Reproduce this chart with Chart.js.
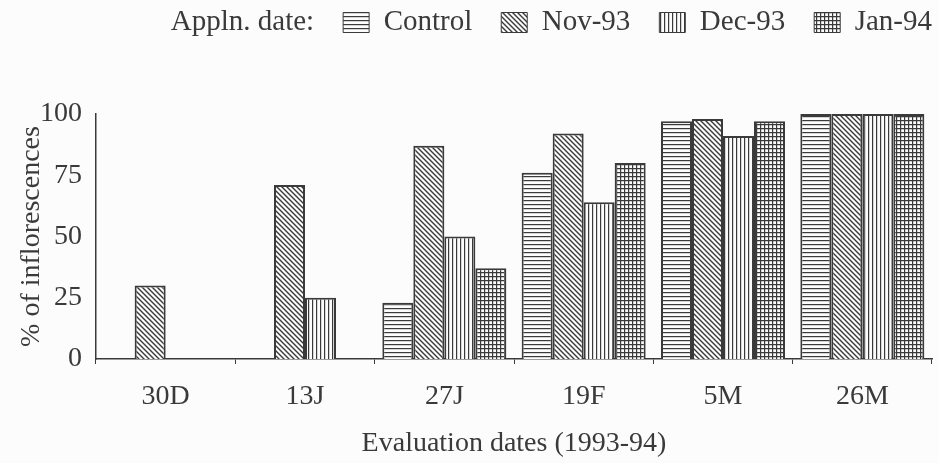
<!DOCTYPE html>
<html>
<head>
<meta charset="utf-8">
<script src="https://cdn.jsdelivr.net/npm/chart.js@4/dist/chart.umd.min.js"></script>
<style>
  html, body { margin: 0; padding: 0; background: #fcfcfc; }
  #wrap { width: 939px; height: 463px; }
</style>
</head>
<body>
<div id="wrap"><canvas id="inflorChart"></canvas></div>
<script>
const evalDates = ["30D", "13J", "27J", "19F", "5M", "26M"];
const controlValues = [0, 0, 23, 76, 97, 100];
const nov93Values = [30, 71, 87, 92, 98, 100];
const dec93Values = [0, 25, 50, 64, 91, 100];
const jan94Values = [0, 0, 37, 80, 97, 100];
const yTicks = [0, 25, 50, 75, 100];

const ink = '#3a3a3a';
const serif = 'Liberation Serif';

// Hatch patterns like the printed figure
function makePattern(kind) {
  const s = kind === 'diag' ? 5 : 4;
  const c = document.createElement('canvas');
  c.width = s;
  c.height = s;
  const g = c.getContext('2d');
  g.fillStyle = '#fcfcfc';
  g.fillRect(0, 0, s, s);
  g.strokeStyle = ink;
  g.lineWidth = 1.4;
  g.beginPath();
  if (kind === 'horiz' || kind === 'grid') {
    g.moveTo(0, 0.5); g.lineTo(s, 0.5);
  }
  if (kind === 'vert' || kind === 'grid') {
    g.moveTo(0.5, 0); g.lineTo(0.5, s);
  }
  if (kind === 'diag') {
    g.moveTo(0, 0); g.lineTo(s, s);
    g.moveTo(-1, s - 1); g.lineTo(1, s + 1);
    g.moveTo(s - 1, -1); g.lineTo(s + 1, 1);
  }
  g.stroke();
  return g.createPattern(c, 'repeat');
}

const ctx = document.getElementById('inflorChart').getContext('2d');

function barSet(label, values, kind) {
  return {
    label: label,
    data: values,
    backgroundColor: makePattern(kind),
    borderColor: ink,
    borderWidth: 2,
    borderSkipped: 'start',
    categoryPercentage: 0.89,
    barPercentage: 1.0
  };
}

// give the legend extra room below it
const legendGap = {
  id: 'legendGap',
  beforeInit(chart) {
    const origFit = chart.legend.fit;
    chart.legend.fit = function () {
      origFit.bind(chart.legend)();
      this.height += 67;
    };
  }
};

new Chart(ctx, {
  type: 'bar',
  data: {
    labels: evalDates,
    datasets: [
      barSet('Control', controlValues, 'horiz'),
      barSet('Nov-93', nov93Values, 'diag'),
      barSet('Dec-93', dec93Values, 'vert'),
      barSet('Jan-94', jan94Values, 'grid')
    ]
  },
  options: {
    responsive: true,
    maintainAspectRatio: false,
    animation: false,
    layout: { padding: { left: 0, right: 7, top: 8, bottom: 3 } },
    plugins: {
      tooltip: { enabled: false },
      legend: {
        position: 'top',
        align: 'end',
        labels: {
          color: ink,
          font: { family: serif, size: 29 },
          boxWidth: 26,
          boxHeight: 20,
          padding: 0,
          generateLabels: function (chart) {
            const items = Chart.defaults.plugins.legend.labels.generateLabels(chart);
            items.forEach(it => { it.lineWidth = 1; });
            items.unshift({
              text: 'Appln. date:',
              fillStyle: 'rgba(0,0,0,0)',
              strokeStyle: 'rgba(0,0,0,0)',
              lineWidth: 0,
              hidden: false,
              fontColor: ink
            });
            // trailing spaces keep the gap between entries
            items.forEach((it, i) => {
              if (i < items.length - 1) it.text = it.text + '    ';
            });
            return items;
          }
        },
        onClick: null
      }
    },
    scales: {
      x: {
        afterFit: function (scale) { scale.height = 101; },
        grid: { display: true, drawOnChartArea: false, offset: true, tickLength: 5, color: ink },
        border: { display: true, color: ink, width: 1.5 },
        ticks: { color: ink, font: { family: serif, size: 28 }, padding: 16 },
        title: {
          display: true,
          text: 'Evaluation dates (1993-94)',
          color: ink,
          font: { family: serif, size: 28 },
          padding: { top: 12, bottom: 0 }
        }
      },
      y: {
        min: 0,
        max: 100,
        afterFit: function (scale) { scale.width = 96; },
        afterBuildTicks: function (axis) {
          axis.ticks = yTicks.map(v => ({ value: v }));
        },
        grid: { display: false, drawTicks: false },
        border: { display: true, color: ink, width: 1.5 },
        ticks: { color: ink, font: { family: serif, size: 28 }, padding: 14 },
        title: {
          display: true,
          text: '% of inflorescences',
          color: ink,
          font: { family: serif, size: 28, lineHeight: 1 },
          padding: { top: 18, bottom: 0 }
        }
      }
    }
  },
  plugins: [legendGap]
});
</script>
</body>
</html>
